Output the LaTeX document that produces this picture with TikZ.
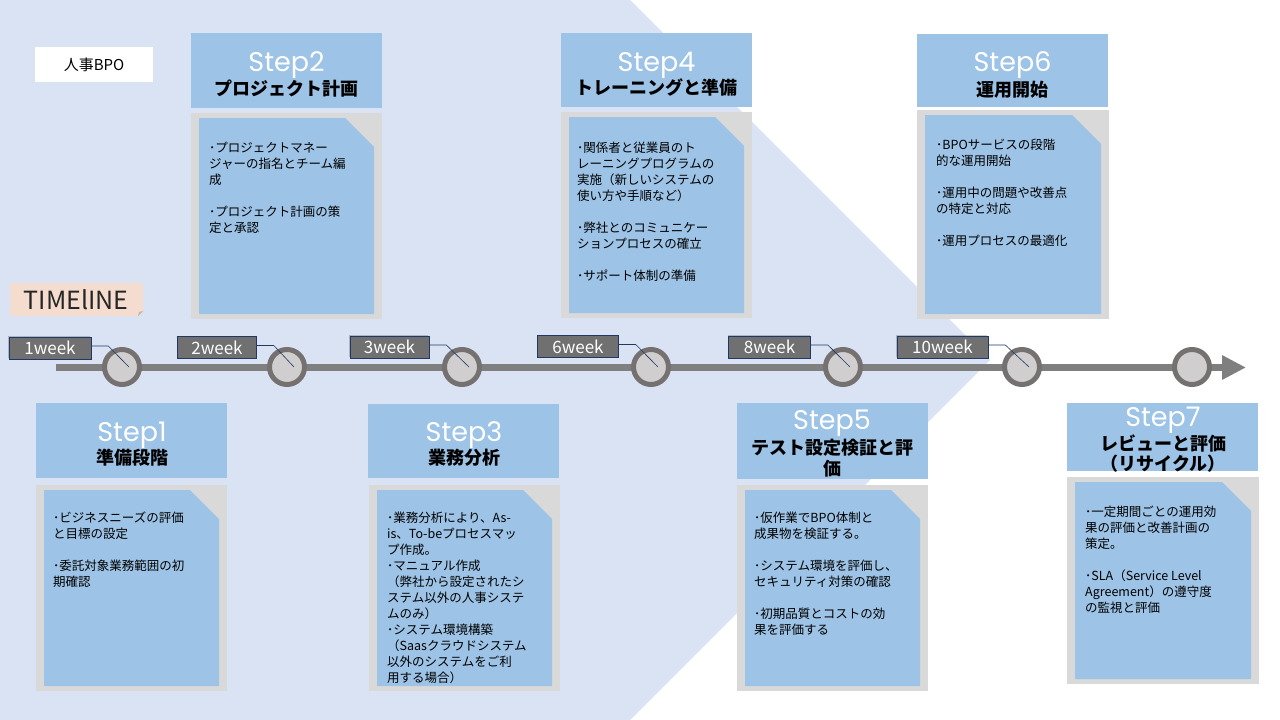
\documentclass[tikz,border=0pt]{standalone}
\usepackage{fontspec}
\setmainfont{Noto Sans CJK JP}
\newfontfamily\popfont{Poppins}
\usetikzlibrary{arrows.meta,shadows,calc}
\definecolor{bglight}{HTML}{DAE3F3}
\definecolor{hdrblue}{HTML}{9DC3E6}
\definecolor{framegray}{HTML}{D9D9D9}
\definecolor{tlgray}{HTML}{7F7F7F}
\definecolor{circborder}{HTML}{767171}
\definecolor{circfill}{HTML}{D0CECE}
\definecolor{wkgray}{HTML}{707070}
\definecolor{navy}{HTML}{203864}
\definecolor{peach}{HTML}{F4DCCF}
\definecolor{peachdark}{HTML}{C9B2A6}
\newcommand\cardbody[4]{%
  \fill[framegray] (#1,#2) rectangle (#3,#4);
  \fill[hdrblue] (#1+8,#2+5) -- (#3-37,#2+5) -- (#3-8,#2+34) -- (#3-8,#4-5) -- (#1+8,#4-5) -- cycle;
}
\begin{document}
\begin{tikzpicture}[x=1pt,y=-1pt,
  hdr/.style={fill=hdrblue, draw=none, minimum width=191pt, anchor=north west, inner sep=0pt},
  steplbl/.style={anchor=base, text=white, font=\popfont\fontsize{27}{27}\selectfont, inner sep=0pt},
  steptitle/.style={anchor=base, text=black, font=\bfseries\fontsize{18}{21}\selectfont, inner sep=0pt},
  bodytxt/.style={anchor=north west, align=left, inner sep=0pt, text=black, font=\fontsize{12.5}{16}\selectfont},
  wk/.style={fill=wkgray, draw=navy, line width=0.6pt, text=white, minimum height=22pt, inner sep=0pt,
     font=\fontsize{17}{17}\selectfont,
     drop shadow={shadow xshift=-1pt, shadow yshift=1pt, opacity=0.2, fill=black}},
  dot/.style={circle, draw=circborder, line width=5pt, fill=circfill, minimum size=35pt, inner sep=0pt},
  lead/.style={draw=navy, line width=0.6pt},
  tline/.style={draw=tlgray, line width=7.5pt, -{Triangle[length=24pt,width=23pt]}},
  tag/.style={fill=white, minimum width=118pt, minimum height=35pt, inner sep=0pt, font=\fontsize{15}{15}\selectfont}
]
\useasboundingbox (0,0) rectangle (1280,720);
\fill[white] (0,0) rectangle (1280,720);
\fill[bglight] (0,0) -- (630,0) -- (990,360) -- (630,720) -- (0,720) -- cycle;

% title tag
\node[tag] (title) at (94,64.5) {人事BPO};

% TIMElINE label
\fill[peach] (10,283) -- (143,283) -- (143,311) -- (138,316) -- (10,316) -- cycle;
\fill[peachdark] (138,316) -- (143,311) -- (139,312) -- cycle;
\node[inner sep=0pt, text=black!85, font=\fontsize{25}{25}\selectfont] (tlabel) at (76,300) {TIMElINE};

% timeline
\coordinate (tstart) at (56,367.5);
\coordinate (tend) at (1246,367.5);
\draw[tline] (tstart) -- (tend);
\foreach \n/\x in {1/122,2/287,3/462,4/651,5/843,6/1022,7/1192}
  \node[dot] (c\n) at (\x,367) {};

% week labels
\node[wk, minimum width=82pt] (w1) at (50,348) {1week};
\node[wk, minimum width=79pt] (w2) at (217,347.5) {2week};
\node[wk, minimum width=79pt] (w3) at (389.5,347) {3week};
\node[wk, minimum width=81pt] (w4) at (578,346.5) {6week};
\node[wk, minimum width=82pt] (w5) at (769.5,347) {8week};
\node[wk, minimum width=91pt] (w6) at (942.5,347) {10week};
\foreach \n in {1,...,6}
  \draw[lead] ($(w\n.east)+(0,-2)$) -- ++(17,0) -- ($(c\n.center)+(7,0)$);

% ---------- Step2 ----------
\node[hdr, minimum height=75pt] (h2) at (191,33) {};
\node[steplbl] (s2) at (286.5,71) {Step2};
\node[steptitle] (t2) at (286.5,95) {プロジェクト計画};
\cardbody{191}{113}{382}{319}
\node[bodytxt] (b2) at (209,142) {･プロジェクトマネー\\ジャーの指名とチーム編\\成\\[16pt]･プロジェクト計画の策\\定と承認};

% ---------- Step4 ----------
\node[hdr, minimum height=74pt] (h4) at (561,33) {};
\node[steplbl] (s4) at (656.5,71) {Step4};
\node[steptitle] (t4) at (656.5,94) {トレーニングと準備};
\cardbody{561}{112}{752}{318}
\node[bodytxt] (b4) at (577,142) {･関係者と従業員のト\\レーニングプログラムの\\実施（新しいシステムの\\使い方や手順など）\\[16pt]･弊社とのコミュニケー\\ションプロセスの確立\\[16pt]･サポート体制の準備};

% ---------- Step6 ----------
\node[hdr, minimum height=73pt] (h6) at (917,34) {};
\node[steplbl] (s6) at (1012.5,71) {Step6};
\node[steptitle] (t6) at (1012.5,96) {運用開始};
\cardbody{917}{110}{1109}{319}
\node[bodytxt] (b6) at (936,139) {･BPOサービスの段階\\的な運用開始\\[16pt]･運用中の問題や改善点\\の特定と対応\\[16pt]･運用プロセスの最適化};

% ---------- Step1 ----------
\node[hdr, minimum height=75pt] (h1) at (36,403) {};
\node[steplbl] (s1) at (132,441) {Step1};
\node[steptitle] (t1) at (132,464) {準備段階};
\cardbody{36}{485}{227}{691}
\node[bodytxt] (b1) at (53,512) {･ビジネスニーズの評価\\と目標の設定\\[16pt]･委託対象業務範囲の初\\期確認};

% ---------- Step3 ----------
\node[hdr, minimum height=74pt] (h3) at (368,404) {};
\node[steplbl] (s3) at (464,441) {Step3};
\node[steptitle] (t3) at (464,464) {業務分析};
\cardbody{369}{485}{560}{691}
\node[bodytxt] (b3) at (387,512) {･業務分析により、As-\\is、To-beプロセスマッ\\プ作成。\\･マニュアル作成\\（弊社から設定されたシ\\ステム以外の人事システ\\ムのみ）\\･システム環境構築\\（Saasクラウドシステム\\以外のシステムをご利\\用する場合）};

% ---------- Step5 ----------
\node[hdr, minimum height=76pt] (h5) at (737,403) {};
\node[steplbl] (s5) at (832,429) {Step5};
\node[steptitle] (t5a) at (832,454) {テスト設定検証と評};
\node[steptitle] (t5b) at (832,475) {価};
\cardbody{737}{485}{928}{691}
\node[bodytxt] (b5) at (754,512) {･仮作業でBPO体制と\\成果物を検証する。\\[16pt]･システム環境を評価し、\\セキュリティ対策の確認\\[16pt]･初期品質とコストの効\\果を評価する};

% ---------- Step7 ----------
\node[hdr, minimum height=68pt] (h7) at (1067,403) {};
\node[steplbl] (s7) at (1163,426) {Step7};
\node[steptitle] (t7a) at (1163,450) {レビューと評価};
\node[steptitle] (t7b) at (1163,470) {（リサイクル）};
\cardbody{1067}{477}{1259}{684}
\node[bodytxt] (b7) at (1085,506) {･一定期間ごとの運用効\\果の評価と改善計画の\\策定。\\[16pt]･SLA（Service Level\\Agreement）の遵守度\\の監視と評価};
\end{tikzpicture}
\end{document}
